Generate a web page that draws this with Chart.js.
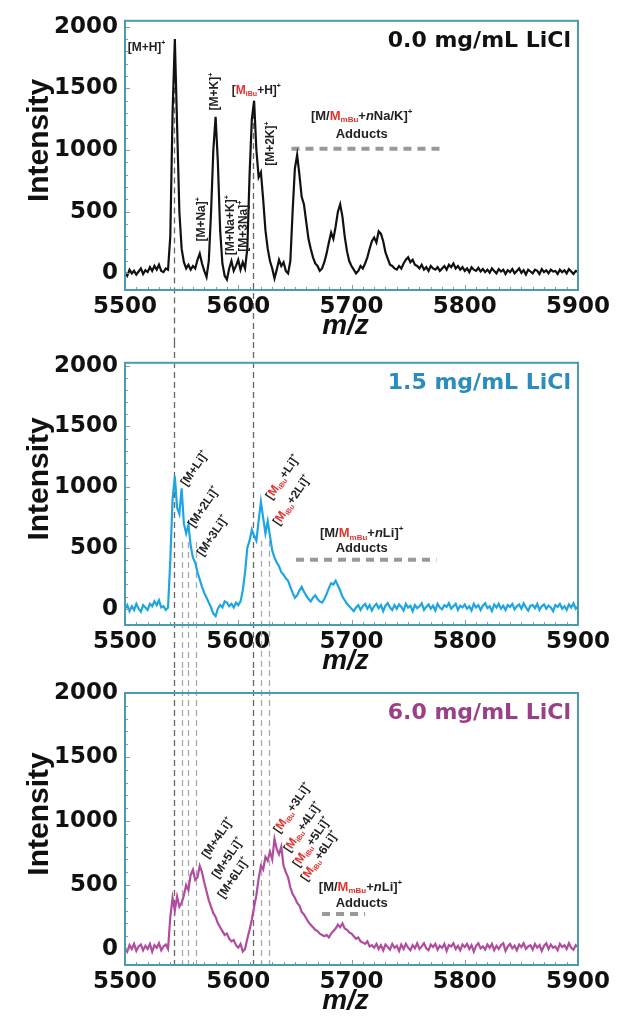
<!DOCTYPE html>
<html>
<head>
<meta charset="utf-8">
<script src="https://cdn.jsdelivr.net/npm/chart.js@4.4.0/dist/chart.umd.min.js"></script>
<style>
  body { margin: 0; background: #fff; width: 618px; height: 1019px; overflow: hidden; position: relative; }
  canvas { position: absolute; left: 0; }
</style>
</head>
<body>
<canvas id="p1" width="618" height="342" style="top:0px"></canvas>
<canvas id="p2" width="618" height="328" style="top:342px"></canvas>
<canvas id="p3" width="618" height="349" style="top:670px"></canvas>
<script>
// m/z sampling (every 2 units)
const mz = [
  5500,5502,5504,5506,5508,5510,5512,5514,5516,5518,
  5520,5522,5524,5526,5528,5530,5532,5534,5536,5538,
  5540,5542,5544,5546,5548,5550,5552,5554,5556,5558,
  5560,5562,5564,5566,5568,5570,5572,5574,5576,5578,
  5580,5582,5584,5586,5588,5590,5592,5594,5596,5598,
  5600,5602,5604,5606,5608,5610,5612,5614,5616,5618,
  5620,5622,5624,5626,5628,5630,5632,5634,5636,5638,
  5640,5642,5644,5646,5648,5650,5652,5654,5656,5658,
  5660,5662,5664,5666,5668,5670,5672,5674,5676,5678,
  5680,5682,5684,5686,5688,5690,5692,5694,5696,5698,
  5700,5702,5704,5706,5708,5710,5712,5714,5716,5718,
  5720,5722,5724,5726,5728,5730,5732,5734,5736,5738,
  5740,5742,5744,5746,5748,5750,5752,5754,5756,5758,
  5760,5762,5764,5766,5768,5770,5772,5774,5776,5778,
  5780,5782,5784,5786,5788,5790,5792,5794,5796,5798,
  5800,5802,5804,5806,5808,5810,5812,5814,5816,5818,
  5820,5822,5824,5826,5828,5830,5832,5834,5836,5838,
  5840,5842,5844,5846,5848,5850,5852,5854,5856,5858,
  5860,5862,5864,5866,5868,5870,5872,5874,5876,5878,
  5880,5882,5884,5886,5888,5890,5892,5894,5896,5898,
  5900
];

// intensities, 0.0 mg/mL LiCl
const lici00 = [
  10,-20,30,0,20,-10,15,40,-5,25,
  10,50,20,60,30,70,20,10,40,30,
  300,1300,1900,1200,500,200,90,40,70,30,
  60,40,110,160,80,20,-30,100,500,1000,
  1270,900,350,80,-20,-50,40,100,20,60,
  110,30,90,40,200,800,1250,1400,1000,780,
  820,600,350,200,100,40,-40,30,110,60,
  90,20,0,100,500,850,960,800,620,560,
  420,280,200,130,80,60,20,40,90,160,
  250,330,280,380,500,560,460,300,180,100,
  60,30,0,20,60,40,80,130,200,260,
  290,250,340,320,260,170,120,70,60,40,
  30,60,40,80,110,130,90,110,70,60,
  40,70,30,50,20,60,40,30,50,20,
  40,60,30,70,50,80,40,60,30,50,
  20,40,10,50,30,20,45,15,35,10,
  30,5,40,20,0,35,15,30,-5,25,
  10,35,0,20,40,5,25,-10,30,15,
  0,30,20,-5,35,10,25,0,30,15,
  20,-5,30,10,25,0,35,15,-5,20,
  10
];

// intensities, 1.5 mg/mL LiCl
const lici15 = [
  0,30,-20,20,-10,40,0,-25,30,10,
  -10,40,20,60,30,70,10,20,-10,10,
  400,900,1090,830,780,990,700,620,690,520,
  420,380,300,240,180,130,90,50,10,-40,
  -60,0,30,10,60,50,20,40,10,50,
  30,60,150,300,500,560,650,600,560,720,
  880,750,620,720,600,480,420,380,350,300,
  280,250,230,180,130,90,110,150,180,140,
  110,80,60,90,110,80,60,50,80,120,
  170,210,200,230,190,150,100,70,40,20,
  0,-20,10,30,-10,20,40,0,30,-15,
  20,40,5,30,-20,25,45,10,-10,30,
  0,35,15,-15,40,10,25,-20,30,5,
  20,45,-10,15,35,0,25,-15,40,10,
  -5,30,15,45,0,20,40,-10,25,10,
  35,0,20,-15,40,10,30,-10,25,45,
  5,20,-20,35,10,40,0,25,-10,30,
  15,40,-5,20,35,0,45,10,-15,25,
  30,5,40,-10,20,35,0,25,10,-20,
  30,15,40,0,20,-10,35,10,45,0,
  20
];

// intensities, 6.0 mg/mL LiCl
const lici60 = [
  10,-20,30,0,40,-15,20,35,-10,25,
  0,40,-20,30,10,45,-10,20,35,0,
  250,400,300,410,330,360,420,500,460,580,
  620,540,560,650,600,520,450,380,330,280,
  250,200,170,140,110,120,80,60,70,30,
  10,40,-20,0,80,150,230,330,420,550,
  650,620,720,690,760,700,860,780,740,800,
  650,600,560,480,430,400,360,340,290,270,
  240,210,190,170,150,140,120,110,100,110,
  90,120,140,160,190,170,200,160,150,130,
  120,100,80,90,60,50,40,60,20,30,
  10,40,0,30,-10,35,15,-5,40,10,
  25,-15,35,0,40,10,-10,30,5,45,
  0,20,45,5,-10,35,15,40,-5,25,
  10,40,-15,30,20,45,0,25,-10,35,
  15,40,0,30,-20,25,45,5,20,-5,
  35,10,40,-10,25,0,30,45,-15,20,
  40,5,25,-10,35,15,45,0,20,30,
  -5,40,10,30,-15,25,45,0,35,10,
  20,-10,40,15,30,0,45,10,-5,30,
  15
];

const xTicks = [5500, 5600, 5700, 5800, 5900];
const yTicks = [0, 500, 1000, 1500, 2000];

// peak positions marked by dashed guide lines
const mPeaks = [5543, 5550, 5556, 5563];
const iBuPeaks = [5613, 5620, 5627];

const RED = '#e5322b';

const panels = [
  {
    id: 'p1', values: lici00, color: '#111', h: 342, top: 15, bottom: 290, yMin: -135, yMax: 2048,
    title: '0.0 mg/mL LiCl', titleColor: '#111',
    vlines: [
      { x: 5543, from: 1750, to: 'canvas', dark: true },
      { x: 5613, from: 1300, to: 'canvas', dark: true }
    ],
    bar: { from: 5647, to: 5778, y: 1010 },
    labels: [
      { t: '[M+H]^+', x: 5519, y: 1833, a: 0 },
      { t: '[M+K]^+', x: 5579.5, y: 1474, a: -90 },
      { t: '[~M_iBu~+H]^+', x: 5616, y: 1482, a: 0 },
      { t: '[M+2K]^+', x: 5629, y: 1052, a: -90 },
      { t: '[M+Na]^+', x: 5568, y: 438, a: -90 },
      { t: '[M+Na+K]^+', x: 5593.6, y: 390, a: -90 },
      { t: '[M+3Na]^+', x: 5605, y: 382, a: -90 },
      { t: '[M/~M_mBu~+`nNa/K]^+', x: 5709, y: 1275, a: 0, s: 13 },
      { t: 'Adducts', x: 5709, y: 1124, a: 0, s: 13 }
    ]
  },
  {
    id: 'p2', values: lici15, color: '#1ea5e3', h: 328, top: 10, bottom: 283, yMin: -134, yMax: 2024,
    title: '1.5 mg/mL LiCl', titleColor: '#2a8cc0',
    vlines: [
      { x: 5543, from: 'top', to: 'canvas', dark: true },
      { x: 5613, from: 'top', to: 'canvas', dark: true },
      { x: 5550, from: 550, to: 'canvas' },
      { x: 5556, from: 550, to: 'canvas' },
      { x: 5563, from: 550, to: 'canvas' },
      { x: 5620, from: 560, to: 'canvas' },
      { x: 5627, from: 560, to: 'canvas' }
    ],
    bar: { from: 5651, to: 5775, y: 403 },
    labels: [
      { t: '[M+Li]^+', x: 5561.8, y: 1154, a: -56 },
      { t: '[M+2Li]^+', x: 5569.8, y: 838, a: -56 },
      { t: '[M+3Li]^+', x: 5577.7, y: 601, a: -56 },
      { t: '[~M_iBu~+Li]^+', x: 5639.5, y: 1083, a: -56 },
      { t: '[~M_iBu~+2Li]^+', x: 5647.5, y: 893, a: -56 },
      { t: '[M/~M_mBu~+`nLi]^+', x: 5709, y: 617, a: 0, s: 13 },
      { t: 'Adducts', x: 5709, y: 498, a: 0, s: 13 }
    ]
  },
  {
    id: 'p3', values: lici60, color: '#b24c9f', h: 349, top: 23, bottom: 295, yMin: -125, yMax: 2000,
    title: '6.0 mg/mL LiCl', titleColor: '#9a3f88',
    vlines: mPeaks.map((x, i) => ({ x, from: 'canvasTop', to: 'chart', dark: i === 0 }))
      .concat(iBuPeaks.map((x, i) => ({ x, from: 'canvasTop', to: 'chart', dark: i === 0 }))),
    bar: { from: 5674, to: 5712, y: 273 },
    labels: [
      { t: '[M+4Li]^+', x: 5582, y: 867, a: -56 },
      { t: '[M+5Li]^+', x: 5591, y: 711, a: -56 },
      { t: '[M+6Li]^+', x: 5596, y: 555, a: -56 },
      { t: '[~M_iBu~+3Li]^+', x: 5648, y: 1102, a: -56 },
      { t: '[~M_iBu~+4Li]^+', x: 5657, y: 953, a: -56 },
      { t: '[~M_iBu~+5Li]^+', x: 5665, y: 836, a: -56 },
      { t: '[~M_iBu~+6Li]^+', x: 5672, y: 727, a: -56 },
      { t: '[M/~M_mBu~+`nLi]^+', x: 5708, y: 484, a: 0, s: 13 },
      { t: 'Adducts', x: 5709, y: 359, a: 0, s: 13 }
    ]
  }
];

// tiny markup: ~ toggles red, _abc subscript, ^x superscript, `x italic
function parseRich(s) {
  const segs = [];
  let red = false, i = 0, buf = '';
  const flush = () => { if (buf) { segs.push({ t: buf, red, k: 'n' }); buf = ''; } };
  while (i < s.length) {
    const c = s[i];
    if (c === '~') { flush(); red = !red; i++; }
    else if (c === '_') {
      flush();
      let j = i + 1;
      while (j < s.length && /[A-Za-z]/.test(s[j])) j++;
      segs.push({ t: s.slice(i + 1, j), red, k: 'sub' });
      i = j;
    }
    else if (c === '^') { flush(); segs.push({ t: s[i + 1], red, k: 'sup' }); i += 2; }
    else if (c === '`') { flush(); segs.push({ t: s[i + 1], red, k: 'it' }); i += 2; }
    else { buf += c; i++; }
  }
  flush();
  return segs;
}

function drawRich(ctx, s, x, y, size, angle) {
  const segs = parseRich(s);
  const fontFor = k => (k === 'sub' || k === 'sup')
    ? `bold ${Math.round(size * 0.6)}px "Liberation Sans"`
    : (k === 'it' ? `italic bold ${size}px "Liberation Sans"` : `bold ${size}px "Liberation Sans"`);
  ctx.save();
  ctx.translate(x, y);
  ctx.rotate(angle * Math.PI / 180);
  let w = 0;
  segs.forEach(sg => { ctx.font = fontFor(sg.k); sg.w = ctx.measureText(sg.t).width; w += sg.w; });
  let cx = -w / 2;
  ctx.textBaseline = 'middle';
  ctx.textAlign = 'left';
  segs.forEach(sg => {
    ctx.font = fontFor(sg.k);
    ctx.fillStyle = sg.red ? RED : '#222';
    const dy = sg.k === 'sub' ? size * 0.32 : (sg.k === 'sup' ? -size * 0.35 : 0);
    ctx.fillText(sg.t, cx, dy);
    cx += sg.w;
  });
  ctx.restore();
}

const decor = {
  id: 'decor',
  beforeDatasetsDraw(chart) {
    const p = panels.find(q => q.id === chart.canvas.id);
    const { ctx, chartArea } = chart;
    const xs = chart.scales.x, ys = chart.scales.y;
    ctx.save();
    // dashed guide lines
    p.vlines.forEach(v => {
      const px = Math.round(xs.getPixelForValue(v.x)) + 0.5;
      let y0 = v.from === 'top' || v.from === 'canvasTop' ? 0 : ys.getPixelForValue(v.from);
      let y1 = v.to === 'canvas' ? chart.height : chartArea.bottom;
      ctx.strokeStyle = v.dark ? '#666' : '#aaa';
      ctx.lineWidth = 1.3;
      ctx.setLineDash([6, 4]);
      ctx.beginPath();
      ctx.moveTo(px, y0);
      ctx.lineTo(px, y1);
      ctx.stroke();
    });
    // adduct range bar
    ctx.strokeStyle = '#999';
    ctx.lineWidth = 4;
    ctx.setLineDash([8, 6]);
    const by = ys.getPixelForValue(p.bar.y);
    ctx.beginPath();
    ctx.moveTo(xs.getPixelForValue(p.bar.from), by);
    ctx.lineTo(xs.getPixelForValue(p.bar.to), by);
    ctx.stroke();
    ctx.restore();
  },
  afterDatasetsDraw(chart) {
    const p = panels.find(q => q.id === chart.canvas.id);
    const { ctx, chartArea } = chart;
    const xs = chart.scales.x, ys = chart.scales.y;
    ctx.save();
    // minor inward ticks
    ctx.strokeStyle = '#8a9aa0';
    ctx.lineWidth = 1;
    for (let v = 5510; v < 5900; v += 10) {
      const px = Math.round(xs.getPixelForValue(v)) + 0.5;
      const len = v % 100 === 0 ? 5 : 3;
      ctx.beginPath();
      ctx.moveTo(px, chartArea.bottom);
      ctx.lineTo(px, chartArea.bottom - len);
      ctx.stroke();
    }
    for (let v = 0; v <= 2000; v += 100) {
      const py = Math.round(ys.getPixelForValue(v)) + 0.5;
      const len = v % 500 === 0 ? 5 : 3;
      ctx.beginPath();
      ctx.moveTo(chartArea.left, py);
      ctx.lineTo(chartArea.left + len, py);
      ctx.stroke();
    }
    // frame
    ctx.strokeStyle = '#4a9ab2';
    ctx.lineWidth = 2;
    ctx.strokeRect(chartArea.left, chartArea.top, chartArea.right - chartArea.left, chartArea.bottom - chartArea.top);
    // annotations
    p.labels.forEach(l => {
      drawRich(ctx, l.t, xs.getPixelForValue(l.x), ys.getPixelForValue(l.y), l.s || 12, l.a);
    });
    // panel title
    ctx.font = 'bold 22px "DejaVu Sans"';
    ctx.fillStyle = p.titleColor;
    ctx.textAlign = 'right';
    ctx.textBaseline = 'middle';
    ctx.fillText(p.title, chartArea.right - 7, chartArea.top + 20);
    // axis titles
    ctx.fillStyle = '#111';
    ctx.textAlign = 'center';
    ctx.font = 'italic bold 28px "Liberation Sans"';
    ctx.fillText('m/z', (chartArea.left + chartArea.right) / 2 - 6, chartArea.bottom + 36);
    ctx.save();
    ctx.translate(40, (chartArea.top + chartArea.bottom) / 2 - 15);
    ctx.rotate(-Math.PI / 2);
    ctx.font = 'bold 30px "Liberation Sans"';
    ctx.fillText('Intensity', 0, 0);
    ctx.restore();
    ctx.restore();
  }
};

const tickFont = { family: 'DejaVu Sans', weight: 'bold', size: 23 };

panels.forEach(p => {
  new Chart(document.getElementById(p.id), {
    type: 'line',
    data: {
      datasets: [{
        data: mz.map((x, i) => ({ x: x, y: p.values[i] })),
        borderColor: p.color,
        borderWidth: 2.2,
        pointRadius: 0,
        tension: 0,
        fill: false
      }]
    },
    options: {
      responsive: false,
      animation: false,
      events: [],
      layout: { padding: { top: p.top, right: 40, left: 0, bottom: 0 } },
      plugins: { legend: { display: false }, tooltip: { enabled: false } },
      scales: {
        x: {
          type: 'linear', min: 5500, max: 5900,
          grid: { display: false, drawTicks: false },
          border: { display: false },
          afterBuildTicks: s => { s.ticks = xTicks.map(v => ({ value: v })); },
          afterFit: s => { s.height = p.h - p.bottom; },
          ticks: { font: tickFont, color: '#111', padding: 3, maxRotation: 0, autoSkip: false, callback: v => String(v) }
        },
        y: {
          type: 'linear', min: p.yMin, max: p.yMax,
          grid: { display: false, drawTicks: false },
          border: { display: false },
          afterBuildTicks: s => { s.ticks = yTicks.map(v => ({ value: v })); },
          afterFit: s => { s.width = 125; },
          ticks: { font: tickFont, color: '#111', padding: 7, callback: v => String(v) }
        }
      }
    },
    plugins: [decor]
  });
});
</script>
</body>
</html>
